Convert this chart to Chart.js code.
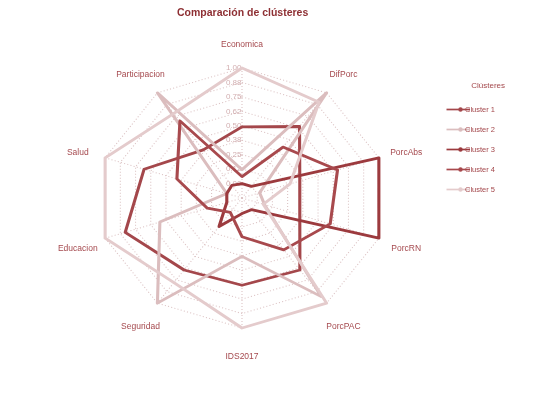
<!DOCTYPE html>
<html><head><meta charset="utf-8">
<script src="https://cdn.jsdelivr.net/npm/chart.js@4.4.1/dist/chart.umd.min.js"></script>
<style>html,body{margin:0;padding:0;background:#fff;} #c{display:block;}</style>
</head><body>
<canvas id="c" width="541" height="395"></canvas>
<script>
// ---- data ----
const categories = ['Economica','DifPorc','PorcAbs','PorcRN','PorcPAC','IDS2017','Seguridad','Educacion','Salud','Participacion'];
const clusterNames = ['Cluster 1','Cluster 2','Cluster 3','Cluster 4','Cluster 5'];
const cluster1 = [0.49, 0.64, 0.35, 0.35, 0.645, 0.63, 0.645, 0.835, 0.68, 0.39];
const cluster2 = [0.12, 1.00, 0.02, 0.06, 0.93, 0.38, 1.00, 0.55, 0.00, 1.00];
const cluster3 = [0.00, 0.00, 1.00, 1.00, 0.00, 0.01, 0.18, 0.00, 0.00, 0.01];
const cluster4 = [0.06, 0.42, 0.66, 0.60, 0.43, 0.21, 0.03, 0.16, 0.41, 0.70];
const cluster5 = [1.00, 0.90, 0.27, 0.05, 1.00, 1.00, 0.78, 1.00, 1.00, 0.78];
const tickLabels = ['0.00','0.12','0.25','0.38','0.50','0.62','0.75','0.88','1.00'];
const clusterColors = ['#a4474b', '#dbbdbe', '#9c3a3e', '#a8494d', '#e4cbcc'];

const FAMILY = '"Liberation Sans", Arial, Helvetica, sans-serif';
const STRETCH = 1.107;      // horizontal stretch of the radar (reference is not circular)
const LABEL_R = 1.2;        // axis label distance, as fraction of radius

function stretchCtx(ctx, cx) { ctx.translate(cx, 0); ctx.scale(STRETCH, 1); ctx.translate(-cx, 0); }

function makeMarker(color) {
  const cv = document.createElement('canvas');
  cv.width = 40; cv.height = 7;
  const c = cv.getContext('2d');
  c.strokeStyle = color; c.lineWidth = 1.7;
  c.beginPath(); c.moveTo(12.5, 3.5); c.lineTo(36, 3.5); c.stroke();
  c.fillStyle = color;
  c.beginPath(); c.arc(26.5, 3.5, 2.2, 0, Math.PI * 2); c.fill();
  return cv;
}
const markers = clusterColors.map(makeMarker);

const stretchPlugin = {
  id: 'stretchRadar',
  beforeDraw(chart) {
    const s = chart.scales.r;
    if (!s.__patched) {
      const g = s.drawGrid;
      s.drawGrid = function (a) {
        const c = this.ctx; c.save(); stretchCtx(c, this.xCenter); g.call(this, a); c.restore();
      };
      const l = s.drawLabels;
      s.drawLabels = function (a) {
        const c = this.ctx; const f = c.fillText;
        c.fillText = function (t, x, y) { this.textAlign = 'right'; return f.call(this, t, x - 0.5, y); };
        try { l.call(this, a); } finally { delete c.fillText; }
      };
      s.__patched = true;
    }
  },
  beforeDatasetsDraw(chart) { const c = chart.ctx; c.save(); stretchCtx(c, chart.scales.r.xCenter); },
  afterDatasetsDraw(chart) { chart.ctx.restore(); },
  afterDraw(chart) {
    const s = chart.scales.r; const ctx = chart.ctx;
    ctx.save();
    ctx.font = '8.5px ' + FAMILY;
    ctx.fillStyle = '#a5494e';
    ctx.textAlign = 'center'; ctx.textBaseline = 'middle';
    categories.forEach((name, i) => {
      const p = s.getPointPosition(i, s.drawingArea * LABEL_R);
      const x = s.xCenter + (p.x - s.xCenter) * STRETCH;
      ctx.fillText(name, x, p.y + 2.5);
    });
    ctx.restore();
  }
};

const series = [cluster1, cluster2, cluster3, cluster4, cluster5];

new Chart(document.getElementById('c').getContext('2d'), {
  type: 'radar',
  data: {
    labels: categories,
    datasets: series.map((d, i) => ({
      label: clusterNames[i], data: d,
      borderColor: clusterColors[i], backgroundColor: 'rgba(0,0,0,0)', fill: false,
      borderWidth: 2.8, borderJoinStyle: 'round', borderCapStyle: 'round',
      pointRadius: 0, pointHoverRadius: 0, order: 4 - i, clip: false
    }))
  },
  options: {
    responsive: false, animation: false, devicePixelRatio: 1,
    layout: { padding: { left: 51, right: 36, top: 0, bottom: 63 } },
    scales: {
      r: {
        min: -0.125, max: 1,
        ticks: {
          stepSize: 0.125,
          callback: (v) => v < 0 ? '' : tickLabels[Math.round(v / 0.125)],
          font: { size: 8, family: FAMILY }, color: '#d2aeb0',
          showLabelBackdrop: false, backdropPadding: 0
        },
        grid: { color: '#dcc3c4', lineWidth: 1 },
        border: { dash: [1, 2] },
        angleLines: { color: '#dcc3c4', lineWidth: 1, borderDash: [1, 2] },
        pointLabels: { display: false }
      }
    },
    plugins: {
      title: {
        display: true, text: 'Comparación de clústeres', fullSize: false,
        color: '#8e3034', font: { size: 10.5, weight: 'bold', family: FAMILY },
        padding: { top: 6.7, bottom: 44.7 }
      },
      legend: {
        position: 'right', align: 'start',
        title: { display: true, text: 'Clústeres', position: 'end', color: '#a3474b',
                 font: { size: 8, family: FAMILY }, padding: { top: 82, bottom: 1.65 } },
        labels: {
          usePointStyle: true, pointStyleWidth: 14.5, padding: 12.5,
          font: { size: 7.5, family: FAMILY }, color: '#a3474b',
          sort: (a, b) => a.datasetIndex - b.datasetIndex,
          generateLabels(chart) {
            const items = Chart.defaults.plugins.legend.labels.generateLabels(chart);
            items.forEach(it => { it.pointStyle = markers[it.datasetIndex]; });
            return items;
          }
        }
      },
      tooltip: { enabled: false }
    }
  },
  plugins: [stretchPlugin]
});
</script>
</body></html>
